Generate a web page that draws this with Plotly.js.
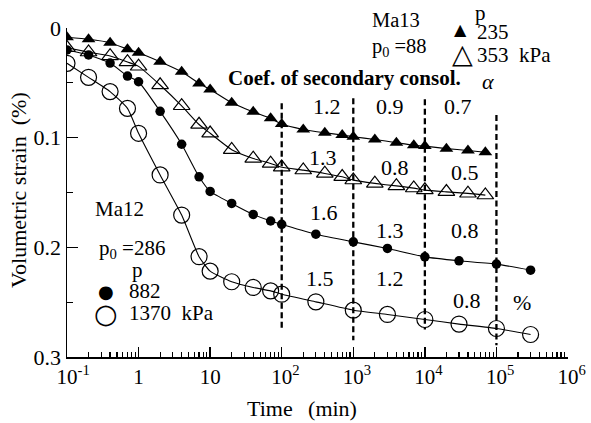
<!DOCTYPE html>
<html><head><meta charset="utf-8">
<script src="https://cdn.plot.ly/plotly-3.0.1.min.js"></script>
<style>html,body{margin:0;padding:0;background:#fff}</style>
</head><body><div id="chart" style="width:591px;height:423px"></div>
<script>
// ---- data (time in min, volumetric strain in %) ----
const timeMa13 = [0.1,0.2,0.4,0.7,1,2,4,7,10,20,40,70,100,200,400,700,1000,2000,4000,7000,10000,20000,40000,70000];
const strainMa13p235 = [0.0085,0.0103,0.0134,0.0194,0.0225,0.0307,0.0399,0.0505,0.056,0.0681,0.0764,0.0824,0.0876,0.0925,0.0955,0.0976,0.0992,0.1016,0.1046,0.1069,0.1077,0.1100,0.1117,0.1133];
const strainMa13p353 = [0.018,0.022,0.0255,0.031,0.035,0.052,0.071,0.088,0.096,0.111,0.119,0.1235,0.127,0.1296,0.1326,0.1357,0.1387,0.1417,0.144,0.146,0.1478,0.1494,0.1508,0.1524];
const timeMa12 = [0.1,0.2,0.4,0.7,1,2,4,7,10,20,40,70,100,300,1000,3000,10000,30000,100000,300000];
const strainMa12p882 = [0.020,0.0246,0.032,0.0438,0.049,0.076,0.106,0.1357,0.149,0.160,0.170,0.176,0.179,0.188,0.195,0.201,0.2087,0.2123,0.2153,0.2208];
const strainMa12p1370 = [0.0322,0.045,0.058,0.0733,0.096,0.134,0.1706,0.2085,0.2217,0.2314,0.2366,0.2397,0.2427,0.2497,0.2573,0.2612,0.2658,0.270,0.274,0.2795];
// dashed decade markers
const dashTimes = [100,1000,10000,100000];
const dashTop = [0.0687,0.064,0.065,0.0794];
const dashBottom = [0.2755,0.2847,0.275,0.2892];
// coefficient of secondary consolidation labels
const alphaMa13p235 = ['1.2','0.9','0.7'];
const alphaMa13p353 = ['1.3','0.8','0.5'];
const alphaMa12p882 = ['1.6','1.3','0.8'];
const alphaMa12p1370 = ['1.5','1.2','0.8'];
// tick labels
const xTickVals = [0.1,1,10,100,1000,10000,100000,1000000];
const xTickExp = ['-1','','','2','3','4','5','6'];
const yTickVals = [0,0.1,0.2,0.3];
const yTickText = ['0','0.1','0.2','0.3'];

// ---- layout geometry ----
const W=591,H=423,L=67,R=23,T=28,B=66;
const pw=W-L-R, ph=H-T-B;
const px=x=>(x-L)/pw, py=y=>1-(y-T)/ph;
const FONT='"Liberation Serif", "Times New Roman", "DejaVu Serif", serif';
const NB='\u00a0';

const xTickText = xTickVals.map((v,i)=>{
  const e=xTickExp[i];
  if(!e) return String(v);
  return '<span style="color:rgba(0,0,0,0)"><sup>'+e+'</sup></span>10<sup>'+e+'</sup>';
});

const lineStyle={color:'#000',width:1.1,shape:'spline',smoothing:0.5};
const traces=[
 {x:timeMa13,y:strainMa13p235,mode:'lines+markers',line:lineStyle,
  marker:{symbol:'triangle-up',size:12,color:'#000'}},
 {x:timeMa13,y:strainMa13p353,mode:'lines+markers',line:lineStyle,
  marker:{symbol:'triangle-up-open',size:14.5,color:'#000',line:{width:1.2,color:'#000'}}},
 {x:timeMa12,y:strainMa12p882,mode:'lines+markers',line:lineStyle,
  marker:{symbol:'circle',size:9.5,color:'#000'}},
 {x:timeMa12,y:strainMa12p1370,mode:'lines+markers',line:lineStyle,
  marker:{symbol:'circle-open',size:16,color:'#000',line:{width:1.2,color:'#000'}}},
];
const dx=[],dy=[];
dashTimes.forEach((t,i)=>{dx.push(t,t,null);dy.push(dashTop[i],dashBottom[i],null);});
traces.push({x:dx,y:dy,mode:'lines',line:{color:'#000',width:2.3,dash:'6px,3.5px'}});

const minorX=[];
for(let d=-1;d<=5;d++){for(let k=2;k<=9;k++){minorX.push(k*Math.pow(10,d));}}

const anns=[];
function ann(text,x,y,o,size){anns.push(Object.assign({text:text,x:px(x),y:py(y),xref:'paper',yref:'paper',
  showarrow:false,xanchor:'center',yanchor:'middle',font:{family:FONT,size:size||21,color:'#000'}},o||{}));}
function sym(text,x,y,size){ann(text,x,y,{font:{family:'"DejaVu Sans"',size:size,color:'#000'}});}

// axis titles
ann('Time'+NB+NB+'\u2009(min)',301.5,408,{},22);
ann('Volumetric strain'+NB+NB+'(%)',18,190,{textangle:-90},22);
// upper-right key
ann('Ma13',396,20,{},20.5);
ann('p<sub>0</sub>'+NB+'=88',399,47,{},20.5);
ann('p',480,13);
sym('▲',460,30,16);
ann('235',475,32,{xanchor:'left'});
sym('△',462.5,54,27);
ann('353'+NB+NB+'kPa',475,55,{xanchor:'left'});
ann('<b>Coef. of secondary consol.</b>',344,78,{},21);
ann('<i>α</i>',488,81,{},22);
// alpha values
alphaMa13p235.forEach((s,i)=>ann(s,[327,390,458][i],107,{},22));
alphaMa13p353.forEach((s,i)=>ann(s,[323,395,465][i],[157,167,172][i],{},22));
alphaMa12p882.forEach((s,i)=>ann(s,[324,390,465][i],[212,230,230][i],{},22));
alphaMa12p1370.forEach((s,i)=>ann(s,[320,390,467][i],[278,278,300][i],{},22));
ann('%',522,302,{},22);
// left key
ann('Ma12',119,209);
ann('p<sub>0</sub>'+NB+'=286',132,249);
ann('p',137,270);
sym('●',105.5,291,18);
ann('882',127,291,{xanchor:'left'});
sym('○',105.5,313,27);
ann('1370'+NB+NB+'kPa',127,313,{xanchor:'left'});

const layout={
 width:W,height:H,margin:{l:L,r:R,t:T,b:B,pad:0},
 paper_bgcolor:'#fff',plot_bgcolor:'#fff',showlegend:false,
 font:{family:FONT,size:21,color:'#000'},
 xaxis:{type:'log',range:[-1,6],tickmode:'array',tickvals:xTickVals,ticktext:xTickText,
  ticks:'inside',ticklen:10,tickwidth:1.4,tickcolor:'#000',showline:true,linewidth:1.5,linecolor:'#000',
  showgrid:false,zeroline:false,tickfont:{family:FONT,size:21},
  minor:{tickmode:'array',tickvals:minorX,ticks:'inside',ticklen:5,tickwidth:1.2,tickcolor:'#000',showgrid:false}},
 yaxis:{range:[0.3,0],tickmode:'array',tickvals:yTickVals,ticktext:yTickText,
  ticks:'inside',ticklen:11,tickwidth:1.4,tickcolor:'#000',showline:true,linewidth:1.5,linecolor:'#000',
  showgrid:false,zeroline:false,tickfont:{family:FONT,size:22},
  minor:{tickmode:'array',tickvals:[0.05,0.15,0.25],ticks:'inside',ticklen:6,tickwidth:1.2,tickcolor:'#000',showgrid:false}},
 annotations:anns
};
Plotly.newPlot('chart',traces,layout,{staticPlot:true,displayModeBar:false});
</script></body></html>
